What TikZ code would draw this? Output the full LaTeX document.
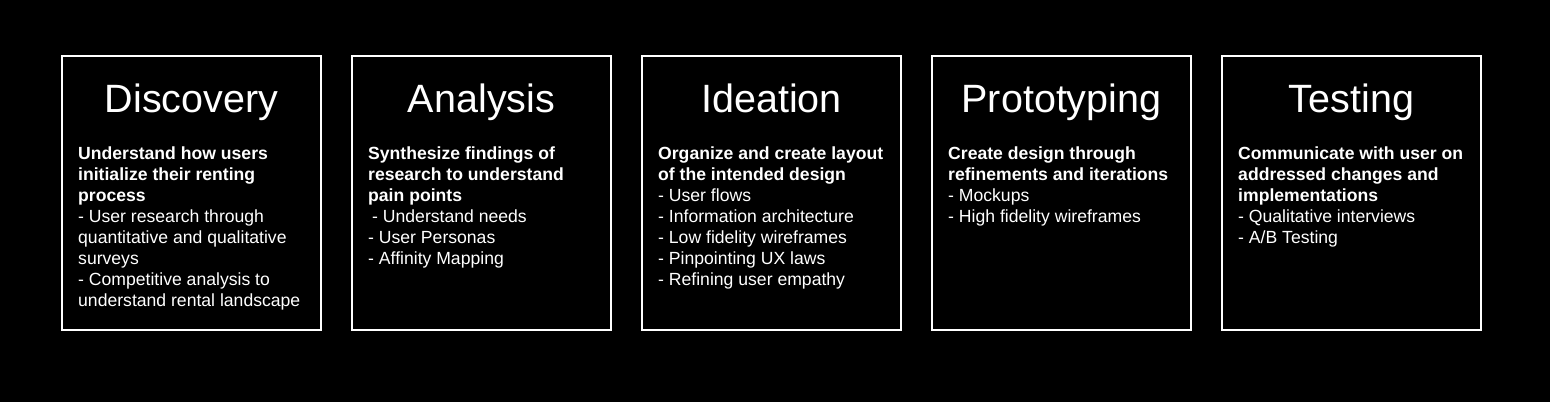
\documentclass[tikz,border=0pt]{standalone}
\usepackage{fontspec}
\setmainfont{Liberation Sans}
\usetikzlibrary{positioning}

\begin{document}
\begin{tikzpicture}[x=1pt, y=-1pt, node distance=31pt,
    phase/.style={draw=white, line width=1.5pt, minimum width=259pt, minimum height=274pt, inner sep=0pt, outer sep=0pt},
    title/.style={text=white, anchor=base, inner sep=0pt, font=\fontsize{39.5}{44}\selectfont},
    body/.style={text=white, anchor=north west, align=left, inner sep=0pt, font=\fontsize{17.6}{21}\selectfont}]
    \fill[black] (0,0) rectangle (1550,402);
    \useasboundingbox (0,0) rectangle (1550,402);

    \node[phase] (discovery) at (191.5,193) {};
    \node[phase, right=of discovery] (analysis) {};
    \node[phase, right=of analysis] (ideation) {};
    \node[phase, right=of ideation] (prototyping) {};
    \node[phase, right=of prototyping] (testing) {};

    \node[title] (discovery-title) at ([yshift=-56pt]discovery.north) {Discovery};
    \node[title] (analysis-title) at ([yshift=-56pt]analysis.north) {Analysis};
    \node[title] (ideation-title) at ([yshift=-56pt]ideation.north) {Ideation};
    \node[title] (prototyping-title) at ([yshift=-56pt]prototyping.north) {Prototyping};
    \node[title] (testing-title) at ([yshift=-56pt]testing.north) {Testing};

    \node[body] (discovery-text) at ([xshift=16pt, yshift=-90.5pt]discovery.north west)
        {\textbf{Understand how users}\\ \textbf{initialize their renting}\\ \textbf{process}\\
         - User research through\\ quantitative and qualitative\\ surveys\\
         - Competitive analysis to\\ understand rental landscape};
    \node[body] (analysis-text) at ([xshift=16pt, yshift=-90.5pt]analysis.north west)
        {\textbf{Synthesize findings of}\\ \textbf{research to understand}\\ \textbf{pain points}\\
         \hspace{4pt}- Understand needs\\ - User Personas\\ - Affinity Mapping};
    \node[body] (ideation-text) at ([xshift=16pt, yshift=-90.5pt]ideation.north west)
        {\textbf{Organize and create layout}\\ \textbf{of the intended design}\\
         - User flows\\ - Information architecture\\ - Low fidelity wireframes\\
         - Pinpointing UX laws\\ - Refining user empathy};
    \node[body] (prototyping-text) at ([xshift=16pt, yshift=-90.5pt]prototyping.north west)
        {\textbf{Create design through}\\ \textbf{refinements and iterations}\\
         - Mockups\\ - High fidelity wireframes};
    \node[body] (testing-text) at ([xshift=16pt, yshift=-90.5pt]testing.north west)
        {\textbf{Communicate with user on}\\ \textbf{addressed changes and}\\ \textbf{implementations}\\
         - Qualitative interviews\\ - A/B Testing};
\end{tikzpicture}
\end{document}
